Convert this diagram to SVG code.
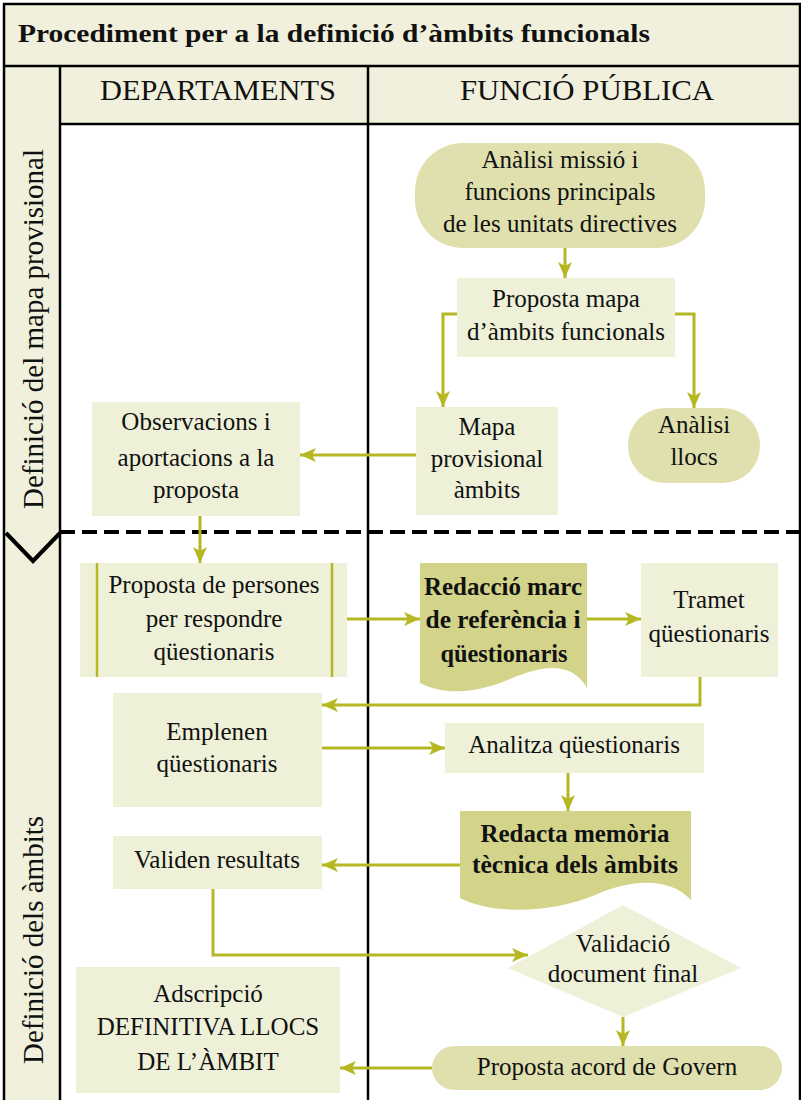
<svg xmlns="http://www.w3.org/2000/svg" width="801" height="1100" viewBox="0 0 801 1100">
<defs>
<style>
.t{font-family:"Liberation Serif","Times New Roman",serif;font-size:25px;fill:#111;text-anchor:middle}
.b{font-weight:bold}
.light{fill:#eef0d8}
.mid{fill:#dfe0ae}
.dark{fill:#d3d48a}
.ln{stroke:#000;stroke-width:2.5;fill:none}
.c{stroke:#b5b823;stroke-width:3;fill:none;marker-end:url(#ah)}
</style>
<marker id="ah" viewBox="0 0 16 14" refX="16" refY="7" markerWidth="16" markerHeight="14" markerUnits="userSpaceOnUse" orient="auto">
<path d="M0,0 L16,7 L0,14 L4,7 Z" fill="#b5b823"/>
</marker>
</defs>
<rect x="0" y="0" width="801" height="1100" fill="#fff"/>
<g id="frame">
<rect x="4" y="4" width="797" height="62" fill="#f0f0dc"/>
<rect x="60" y="66" width="741" height="58" fill="#f0f0dc"/>
<rect x="4" y="66" width="56" height="1034" fill="#f0f0dc"/>
<path class="ln" d="M4,3 V1100 M3,4 H801 M800,4 V1100 M4,66 H801 M60,124 H801 M60,66 V1100 M368,66 V1100"/>
<path d="M60,532 H801" stroke="#000" stroke-width="4" stroke-dasharray="15 7" fill="none"/>
<path d="M6,533 L33,561 L60,533" stroke="#000" stroke-width="4" fill="none"/>
<text class="t b" x="18" y="42" style="text-anchor:start;font-size:26px" textLength="632" lengthAdjust="spacingAndGlyphs">Procediment per a la definició d’àmbits funcionals</text>
<text class="t" x="218" y="100" style="font-size:29px" textLength="236" lengthAdjust="spacingAndGlyphs">DEPARTAMENTS</text>
<text class="t" x="587" y="100" style="font-size:29px" textLength="254" lengthAdjust="spacingAndGlyphs">FUNCIÓ PÚBLICA</text>
<text class="t" transform="translate(43,329) rotate(-90)" style="font-size:29px">Definició del mapa provisional</text>
<text class="t" transform="translate(43,940) rotate(-90)" style="font-size:29px">Definició dels àmbits</text>
</g>
<g id="connectors">
<path class="c" d="M565,248 V278"/>
<path class="c" d="M457,314 H443 V407"/>
<path class="c" d="M675,314 H694 V408"/>
<path class="c" d="M416,455 H300"/>
<path class="c" d="M200,516 V563"/>
<path class="c" d="M347,619 H420"/>
<path class="c" d="M587,619 H641"/>
<path class="c" d="M700,677 V705 H322"/>
<path class="c" d="M322,748 H445"/>
<path class="c" d="M568,773 V811"/>
<path class="c" d="M460,865 H322"/>
<path class="c" d="M213,889 V955 H528"/>
<path class="c" d="M623,1017 V1046"/>
<path class="c" d="M432,1068 H340"/>
</g>
<g id="n-analisi-missio">
<rect class="mid" x="415" y="143" width="290" height="105" rx="48"/>
<text class="t" x="560" y="168">Anàlisi missió i</text>
<text class="t" x="560" y="200">funcions principals</text>
<text class="t" x="560" y="232">de les unitats directives</text>
</g>
<g id="n-proposta-mapa">
<rect class="light" x="457" y="278" width="218" height="79"/>
<text class="t" x="566" y="307">Proposta mapa</text>
<text class="t" x="566" y="340">d’àmbits funcionals</text>
</g>
<g id="n-mapa-provisional">
<rect class="light" x="416" y="407" width="142" height="108"/>
<text class="t" x="487" y="435">Mapa</text>
<text class="t" x="487" y="467">provisional</text>
<text class="t" x="487" y="498">àmbits</text>
</g>
<g id="n-analisi-llocs">
<rect class="mid" x="628" y="408" width="132" height="75" rx="37"/>
<text class="t" x="694" y="433">Anàlisi</text>
<text class="t" x="694" y="465">llocs</text>
</g>
<g id="n-observacions">
<rect class="light" x="92" y="402" width="208" height="114"/>
<text class="t" x="196" y="430">Observacions i</text>
<text class="t" x="196" y="466">aportacions a la</text>
<text class="t" x="196" y="498">proposta</text>
</g>
<g id="n-proposta-persones">
<rect class="light" x="80" y="563" width="267" height="114"/>
<path d="M97,563 V677 M332,563 V677" stroke="#b5b823" stroke-width="2.5"/>
<text class="t" x="214" y="593">Proposta de persones</text>
<text class="t" x="214" y="627">per respondre</text>
<text class="t" x="214" y="660">qüestionaris</text>
</g>
<g id="n-redaccio-marc">
<path class="dark" d="M420,563 H587 V688 C572,662 545,664 510,679 C478,693 445,696 420,683 Z"/>
<text class="t b" x="503" y="595" textLength="158" lengthAdjust="spacingAndGlyphs">Redacció marc</text>
<text class="t b" x="503" y="628" textLength="155" lengthAdjust="spacingAndGlyphs">de referència i</text>
<text class="t b" x="504" y="662" textLength="127" lengthAdjust="spacingAndGlyphs">qüestionaris</text>
</g>
<g id="n-tramet">
<rect class="light" x="641" y="563" width="137" height="114"/>
<text class="t" x="709" y="608">Tramet</text>
<text class="t" x="709" y="642">qüestionaris</text>
</g>
<g id="n-emplenen">
<rect class="light" x="113" y="693" width="209" height="114"/>
<text class="t" x="217" y="740">Emplenen</text>
<text class="t" x="217" y="772">qüestionaris</text>
</g>
<g id="n-analitza">
<rect class="light" x="445" y="723" width="259" height="50"/>
<text class="t" x="574" y="753">Analitza qüestionaris</text>
</g>
<g id="n-redacta-memoria">
<path class="dark" d="M460,811 H691 V900 C668,876 630,880 595,895 C555,912 495,916 460,898 Z"/>
<text class="t b" x="575" y="842" textLength="189" lengthAdjust="spacingAndGlyphs">Redacta memòria</text>
<text class="t b" x="575" y="873" textLength="206" lengthAdjust="spacingAndGlyphs">tècnica dels àmbits</text>
</g>
<g id="n-validen">
<rect class="light" x="113" y="836" width="209" height="53"/>
<text class="t" x="217" y="868">Validen resultats</text>
</g>
<g id="n-validacio">
<polygon class="light" points="623,905 741,968 623,1017 508,968"/>
<text class="t" x="623" y="952">Validació</text>
<text class="t" x="623" y="982">document final</text>
</g>
<g id="n-proposta-acord">
<rect class="mid" x="432" y="1046" width="350" height="44" rx="22"/>
<text class="t" x="607" y="1075">Proposta acord de Govern</text>
</g>
<g id="n-adscripcio">
<rect class="light" x="76" y="967" width="264" height="126"/>
<text class="t" x="208" y="1002">Adscripció</text>
<text class="t" x="208" y="1035">DEFINITIVA LLOCS</text>
<text class="t" x="208" y="1070">DE L’ÀMBIT</text>
</g>
</svg>
